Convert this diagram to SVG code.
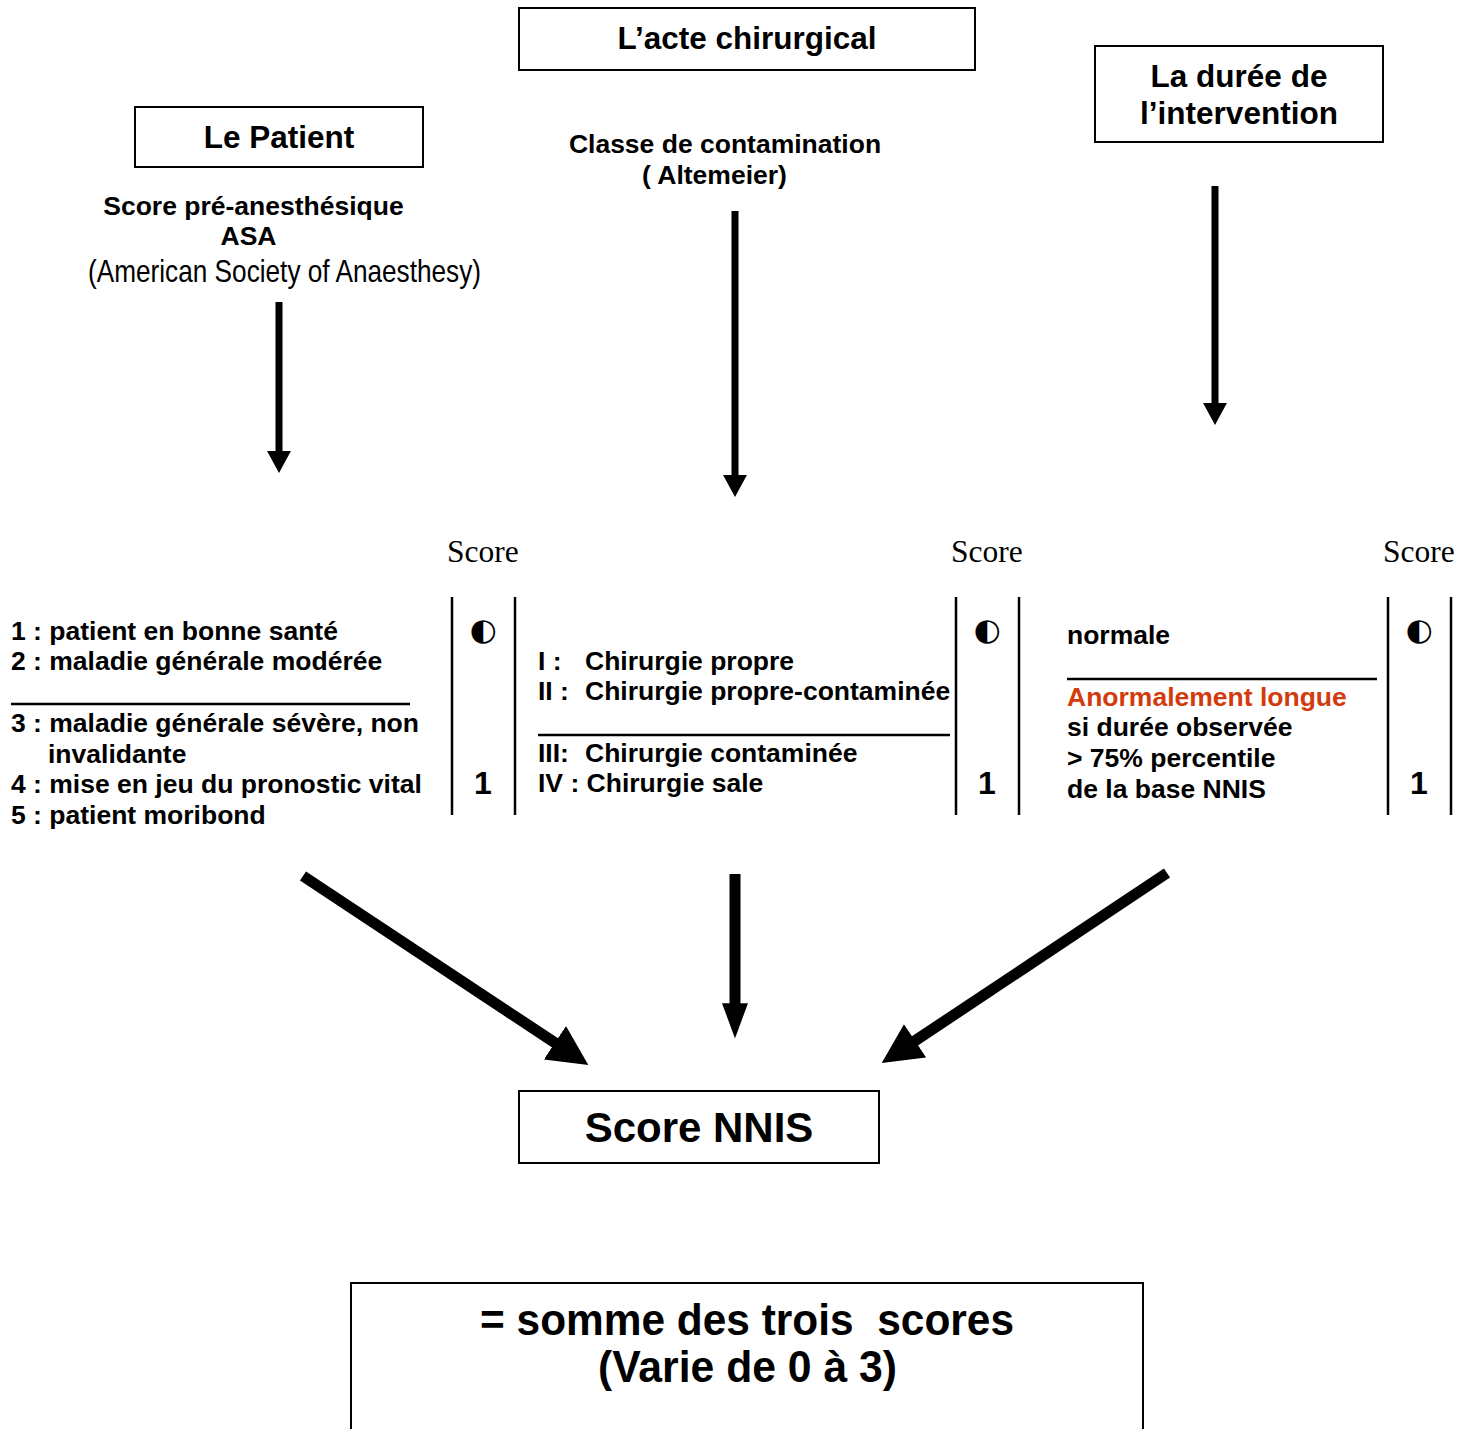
<svg xmlns="http://www.w3.org/2000/svg" width="1463" height="1429" viewBox="0 0 1463 1429">
<style>
.box{fill:#fff;stroke:#000;stroke-width:2}
.t{font-family:"Liberation Sans",Arial,sans-serif;font-weight:bold;font-size:31.5px;fill:#000}
.b{font-family:"Liberation Sans",Arial,sans-serif;font-weight:bold;font-size:26.5px;fill:#000}
.n{font-family:"Liberation Sans Narrow","Liberation Sans",Arial,sans-serif;font-size:32px;fill:#000}
.nb{font-family:"Liberation Sans Narrow","Liberation Sans",Arial,sans-serif;font-weight:bold;font-size:45px;fill:#000}
.sc{font-family:"Liberation Serif","Times New Roman",serif;font-size:31.5px;fill:#000}
.half{font-family:"DejaVu Sans",sans-serif;font-size:31px;fill:#000}
.one{font-family:"Liberation Sans",Arial,sans-serif;font-weight:bold;font-size:32px;fill:#000}
.red{fill:#d23c0c}
.rule{stroke:#000;stroke-width:2.5}
.thin{stroke:#000;stroke-width:7;fill:none}
.thick{stroke:#000;stroke-width:11;fill:none}
</style>
<defs>
<marker id="ah" viewBox="0 0 10 10" refX="0.5" refY="5" markerWidth="3.14" markerHeight="3.43" preserveAspectRatio="none" orient="auto"><path d="M0,0 L10,5 L0,10 z" fill="#000"/></marker>
<marker id="ad" viewBox="0 0 10 10" refX="0.5" refY="5" markerWidth="3.64" markerHeight="3.64" preserveAspectRatio="none" orient="auto"><path d="M0,0 L10,5 L0,10 z" fill="#000"/></marker>
<marker id="av" viewBox="0 0 10 10" refX="0.5" refY="5" markerWidth="3.2" markerHeight="2.36" preserveAspectRatio="none" orient="auto"><path d="M0,0 L10,5 L0,10 z" fill="#000"/></marker>
</defs>

<g id="node-acte">
<rect class="box" x="519" y="8" width="456" height="62"/>
<text class="t" x="747" y="49" text-anchor="middle">L’acte chirurgical</text>
</g>
<g id="node-patient">
<rect class="box" x="135" y="107" width="288" height="60"/>
<text class="t" x="279" y="148" text-anchor="middle">Le Patient</text>
</g>
<g id="node-duree">
<rect class="box" x="1095" y="46" width="288" height="96"/>
<text class="t" x="1239" y="87" text-anchor="middle">La durée de</text>
<text class="t" x="1239" y="124" text-anchor="middle">l’intervention</text>
</g>

<g id="label-asa">
<text class="b" x="253.5" y="215" text-anchor="middle">Score pré-anesthésique</text>
<text class="b" x="248.5" y="245" text-anchor="middle">ASA</text>
<text class="n" x="88" y="282" textLength="393" lengthAdjust="spacingAndGlyphs">(American Society of Anaesthesy)</text>
</g>
<g id="label-classe">
<text class="b" x="725" y="153" text-anchor="middle">Classe de contamination</text>
<text class="b" x="714.5" y="184" text-anchor="middle">( Altemeier)</text>
</g>

<g id="table">
<text class="sc" x="447" y="562">Score</text>
<text class="sc" x="951" y="562">Score</text>
<text class="sc" x="1383" y="562">Score</text>
<line class="rule" x1="452" y1="597" x2="452" y2="815"/>
<line class="rule" x1="515" y1="597" x2="515" y2="815"/>
<line class="rule" x1="956" y1="597" x2="956" y2="815"/>
<line class="rule" x1="1019" y1="597" x2="1019" y2="815"/>
<line class="rule" x1="1388" y1="597" x2="1388" y2="815"/>
<line class="rule" x1="1451" y1="597" x2="1451" y2="815"/>
<text class="half" x="483" y="640" text-anchor="middle">◐</text>
<text class="half" x="987" y="640" text-anchor="middle">◐</text>
<text class="half" x="1419" y="640" text-anchor="middle">◐</text>
<text class="one" x="483" y="794" text-anchor="middle">1</text>
<text class="one" x="987" y="794" text-anchor="middle">1</text>
<text class="one" x="1419" y="794" text-anchor="middle">1</text>
</g>

<g id="node-asa-list">
<text class="b" x="11" y="640">1 : patient en bonne santé</text>
<text class="b" x="11" y="670">2 : maladie générale modérée</text>
<line class="rule" x1="11" y1="704" x2="410" y2="704"/>
<text class="b" x="11" y="732">3 : maladie générale sévère, non</text>
<text class="b" x="48" y="763">invalidante</text>
<text class="b" x="11" y="793">4 : mise en jeu du pronostic vital</text>
<text class="b" x="11" y="824">5 : patient moribond</text>
</g>

<g id="node-classes">
<text class="b" x="538" y="670">I :</text><text class="b" x="585" y="670">Chirurgie propre</text>
<text class="b" x="538" y="700">II :</text><text class="b" x="585" y="700">Chirurgie propre-contaminée</text>
<line class="rule" x1="538" y1="735" x2="950" y2="735"/>
<text class="b" x="538" y="762">III:</text><text class="b" x="585" y="762">Chirurgie contaminée</text>
<text class="b" x="538" y="792">IV : Chirurgie sale</text>
</g>

<g id="node-durees">
<text class="b" x="1067" y="644">normale</text>
<line class="rule" x1="1067" y1="679" x2="1377" y2="679"/>
<text class="b red" x="1067" y="706">Anormalement longue</text>
<text class="b" x="1067" y="736">si durée observée</text>
<text class="b" x="1067" y="767">&gt; 75% percentile</text>
<text class="b" x="1067" y="798">de la base NNIS</text>
</g>

<g id="node-nnis">
<rect class="box" x="519" y="1091" width="360" height="72"/>
<text class="t" x="699" y="1142" text-anchor="middle" style="font-size:42px">Score NNIS</text>
</g>

<g id="node-somme">
<rect class="box" x="351" y="1283" width="792" height="160"/>
<text class="nb" x="480" y="1335" textLength="534" lengthAdjust="spacingAndGlyphs" xml:space="preserve">= somme des trois  scores</text>
<text class="nb" x="598" y="1382" textLength="299" lengthAdjust="spacingAndGlyphs">(Varie de 0 à 3)</text>
</g>

<g id="connectors">
<line class="thin" x1="279" y1="302" x2="279" y2="452" marker-end="url(#ah)"/>
<line class="thin" x1="735" y1="211" x2="735" y2="476" marker-end="url(#ah)"/>
<line class="thin" x1="1215" y1="186" x2="1215" y2="404" marker-end="url(#ah)"/>
<line class="thick" x1="303" y1="876" x2="556.6" y2="1043.9" marker-end="url(#ad)"/>
<line class="thick" x1="735" y1="874" x2="735" y2="1005" marker-end="url(#av)"/>
<line class="thick" x1="1167" y1="873" x2="913.4" y2="1041.9" marker-end="url(#ad)"/>
</g>
</svg>
